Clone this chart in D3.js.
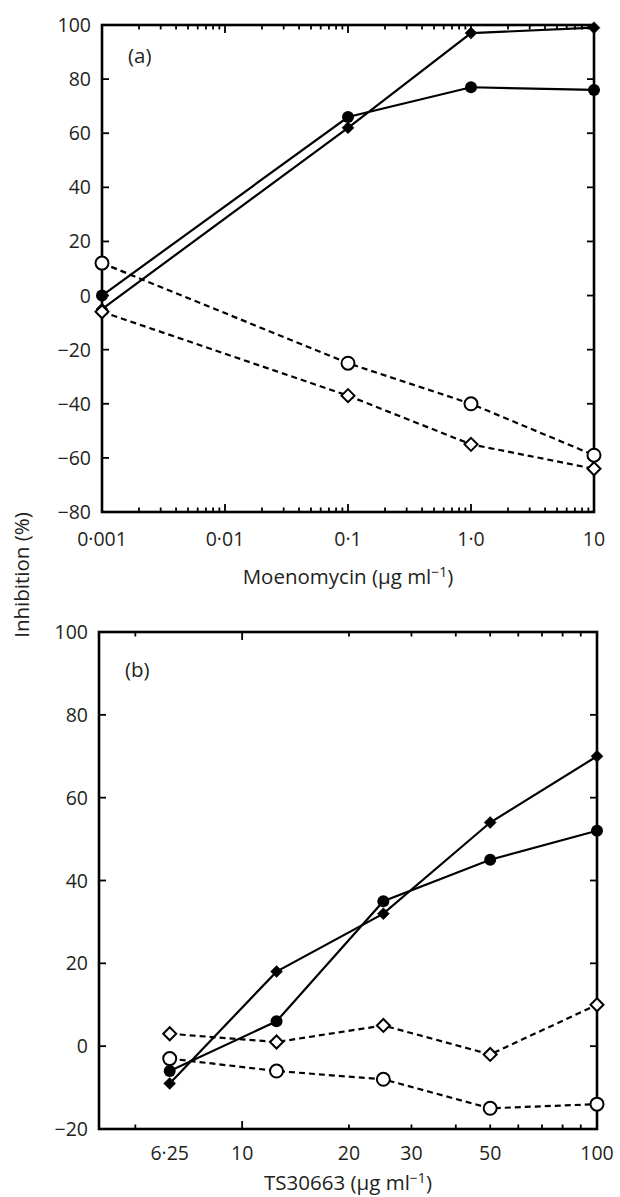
<!DOCTYPE html>
<html>
<head>
<meta charset="utf-8">
<script src="https://cdn.jsdelivr.net/npm/d3@7"></script>
<style>
  html, body { margin: 0; padding: 0; background: #fff; }
  svg { display: block; }
  text { font-family: "Open Sans", "Noto Sans", sans-serif; fill: #231f20; }
</style>
</head>
<body>
<div id="chart"></div>
<script>
// ---------- Panel (a): Moenomycin ----------
const doseA = [0.001, 0.1, 1, 10];
const aFilledCircle  = [0, 66, 77, 76];
const aFilledDiamond = [-5, 62, 97, 99];
const aOpenCircle    = [12, -25, -40, -59];
const aOpenDiamond   = [-6, -37, -55, -64];
const aXTickValues = [0.001, 0.01, 0.1, 1, 10];
const aXTickLabels = ["0·001", "0·01", "0·1", "1·0", "10"];
const aYTicks = [-80, -60, -40, -20, 0, 20, 40, 60, 80, 100];

// ---------- Panel (b): TS30663 ----------
const doseB = [6.25, 12.5, 25, 50, 100];
const bFilledCircle  = [-6, 6, 35, 45, 52];
const bFilledDiamond = [-9, 18, 32, 54, 70];
const bOpenCircle    = [-3, -6, -8, -15, -14];
const bOpenDiamond   = [3, 1, 5, -2, 10];
const bXTickValues = [6.25, 10, 20, 30, 50, 100];
const bXTickLabels = ["6·25", "10", "20", "30", "50", "100"];
const bMajorTicks = [10, 100];
const bMinorTicks = [5, 20, 30, 40, 50, 60, 70, 80, 90];
const bYTicks = [-20, 0, 20, 40, 60, 80, 100];

const yLabel = "Inhibition (%)";

const W = 620, H = 1197;
const svg = d3.select("#chart").append("svg").attr("width", W).attr("height", H);

const fmtY = v => v < 0 ? "\u2212" + Math.abs(v) : String(v);
const FS = 19.5;
const TFS = 20.5;

function panel(cfg) {
  const { left, right, top, bottom } = cfg;
  const x = d3.scaleLog().domain(cfg.xDomain).range([left, right]);
  const y = d3.scaleLinear().domain(cfg.yDomain).range([bottom, top]);
  const g = svg.append("g");

  // ticks (inward)
  const tickG = g.append("g").attr("stroke", "#000").attr("stroke-width", 1.8);
  cfg.major.forEach(v => {
    const px = x(v);
    tickG.append("line").attr("x1", px).attr("x2", px).attr("y1", bottom).attr("y2", bottom - 8);
    tickG.append("line").attr("x1", px).attr("x2", px).attr("y1", top).attr("y2", top + 8);
  });
  cfg.minor.forEach(v => {
    const px = x(v);
    tickG.append("line").attr("x1", px).attr("x2", px).attr("y1", bottom).attr("y2", bottom - 4.5);
    tickG.append("line").attr("x1", px).attr("x2", px).attr("y1", top).attr("y2", top + 4.5);
  });
  cfg.yTicks.forEach(v => {
    const py = y(v);
    tickG.append("line").attr("x1", left).attr("x2", left + 7).attr("y1", py).attr("y2", py);
    tickG.append("line").attr("x1", right).attr("x2", right - 7).attr("y1", py).attr("y2", py);
  });

  // y tick labels
  g.append("g").selectAll("text").data(cfg.yTicks).join("text")
    .attr("x", left - 11).attr("y", d => y(d)).attr("dy", "0.36em")
    .attr("text-anchor", "end").attr("font-size", FS).text(fmtY);

  // x tick labels
  g.append("g").selectAll("text").data(cfg.xTickValues).join("text")
    .attr("x", d => x(d))
    .attr("y", cfg.xLabelY)
    .attr("text-anchor", "middle").attr("font-size", FS)
    .text((d, i) => cfg.xTickLabels[i]);

  // axis title
  const t = g.append("text").attr("x", (left + right) / 2).attr("y", cfg.titleY)
    .attr("text-anchor", "middle").attr("font-size", TFS);
  t.append("tspan").text(cfg.title + " (\u03bcg ml");
  t.append("tspan").attr("font-size", 14).attr("dy", -7).text("\u22121");
  t.append("tspan").attr("dy", 7).text(")");

  // panel letter
  g.append("text").attr("x", left + 26).attr("y", cfg.letterY)
    .attr("font-size", TFS).text(cfg.letter);

  // lines
  const line = d3.line().x(d => x(d[0])).y(d => y(d[1]));
  const series = cfg.series;
  series.forEach(s => {
    g.append("path").datum(cfg.dose.map((d, i) => [d, s.values[i]]))
      .attr("d", line).attr("fill", "none").attr("stroke", "#000")
      .attr("stroke-width", 2.2)
      .attr("stroke-dasharray", s.dashed ? "6,4" : null);
  });

  // frame
  g.append("rect").attr("x", left).attr("y", top)
    .attr("width", right - left).attr("height", bottom - top)
    .attr("fill", "none").attr("stroke", "#000").attr("stroke-width", 2.6);

  // markers
  series.forEach(s => {
    const mg = g.append("g");
    cfg.dose.forEach((d, i) => {
      const cx = x(d), cy = y(s.values[i]);
      if (s.shape === "circle") {
        mg.append("circle").attr("cx", cx).attr("cy", cy)
          .attr("r", s.filled ? 6 : 6.5)
          .attr("fill", s.filled ? "#000" : "#fff")
          .attr("stroke", "#000").attr("stroke-width", s.filled ? 0 : 2);
      } else {
        const r = s.filled ? 6 : 6.5;
        mg.append("path")
          .attr("d", `M${cx},${cy - r}L${cx + r},${cy}L${cx},${cy + r}L${cx - r},${cy}Z`)
          .attr("fill", s.filled ? "#000" : "#fff")
          .attr("stroke", "#000").attr("stroke-width", s.filled ? 0.5 : 2);
      }
    });
  });
}

// Panel a minor ticks (log 2..9 per decade)
const aScaleTmp = d3.scaleLog().domain([0.001, 10]);
const aAll = aScaleTmp.ticks();
const aMajor = aAll.filter(v => Math.abs(Math.log10(v) - Math.round(Math.log10(v))) < 1e-9);
const aMinor = aAll.filter(v => !aMajor.includes(v));

panel({
  left: 102, right: 594, top: 25, bottom: 512,
  xDomain: [0.001, 10], yDomain: [-80, 100],
  major: aMajor, minor: aMinor, yTicks: aYTicks,
  xTickValues: aXTickValues, xTickLabels: aXTickLabels,
  xLabelY: 546, titleY: 584, title: "Moenomycin",
  letter: "(a)", letterY: 63, dose: doseA,
  series: [
    { values: aFilledDiamond, shape: "diamond", filled: true, dashed: false },
    { values: aFilledCircle, shape: "circle", filled: true, dashed: false },
    { values: aOpenDiamond, shape: "diamond", filled: false, dashed: true },
    { values: aOpenCircle, shape: "circle", filled: false, dashed: true }
  ]
});

panel({
  left: 99, right: 597, top: 632, bottom: 1129,
  xDomain: [3.95, 100], yDomain: [-20, 100],
  major: bMajorTicks, minor: bMinorTicks, yTicks: bYTicks,
  xTickValues: bXTickValues, xTickLabels: bXTickLabels,
  xLabelY: 1160, titleY: 1190, title: "TS30663",
  letter: "(b)", letterY: 677, dose: doseB,
  series: [
    { values: bFilledDiamond, shape: "diamond", filled: true, dashed: false },
    { values: bFilledCircle, shape: "circle", filled: true, dashed: false },
    { values: bOpenDiamond, shape: "diamond", filled: false, dashed: true },
    { values: bOpenCircle, shape: "circle", filled: false, dashed: true }
  ]
});

// shared y-axis title
svg.append("text").attr("transform", "translate(29,575) rotate(-90)")
  .attr("text-anchor", "middle").attr("font-size", TFS).text(yLabel);
</script>
</body>
</html>
